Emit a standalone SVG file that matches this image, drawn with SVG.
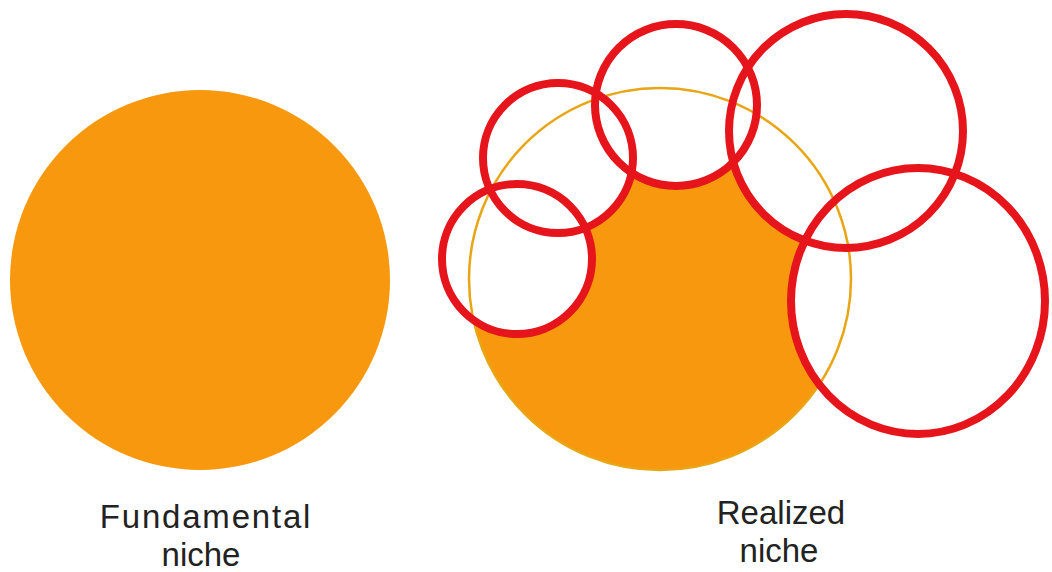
<svg xmlns="http://www.w3.org/2000/svg" width="1052" height="572" viewBox="0 0 1052 572">
<style>
.fill{fill:#f7980f}
.hole{fill:#ffffff;stroke:none}
.ring{fill:none;stroke:#e5151b;stroke-width:8}
.outline{fill:none;stroke:#e8a515;stroke-width:2.5}
.lbl{font-family:"Liberation Sans",Arial,sans-serif;font-size:33px;fill:#222;text-anchor:middle}
</style>
<rect width="1052" height="572" fill="#ffffff"/>
<g id="fundamental">
<circle class="fill" cx="200" cy="280" r="190"/>
<text class="lbl" x="206" y="528" letter-spacing="1.8">Fundamental</text>
<text class="lbl" x="201" y="566">niche</text>
</g>
<g id="realized">
<circle class="fill" cx="660" cy="279" r="191"/>
<circle class="hole" cx="517" cy="259" r="75"/>
<circle class="hole" cx="558" cy="158" r="75"/>
<circle class="hole" cx="676" cy="105" r="81"/>
<circle class="hole" cx="846" cy="131" r="117"/>
<ellipse class="hole" cx="918" cy="301" rx="127" ry="133"/>
<circle class="outline" cx="660" cy="279" r="191"/>
<circle class="ring" cx="517" cy="259" r="75"/>
<circle class="ring" cx="558" cy="158" r="75"/>
<circle class="ring" cx="676" cy="105" r="81"/>
<circle class="ring" cx="846" cy="131" r="117"/>
<ellipse class="ring" cx="918" cy="301" rx="127" ry="133"/>
<text class="lbl" x="781" y="524">Realized</text>
<text class="lbl" x="779" y="562">niche</text>
</g>
</svg>
